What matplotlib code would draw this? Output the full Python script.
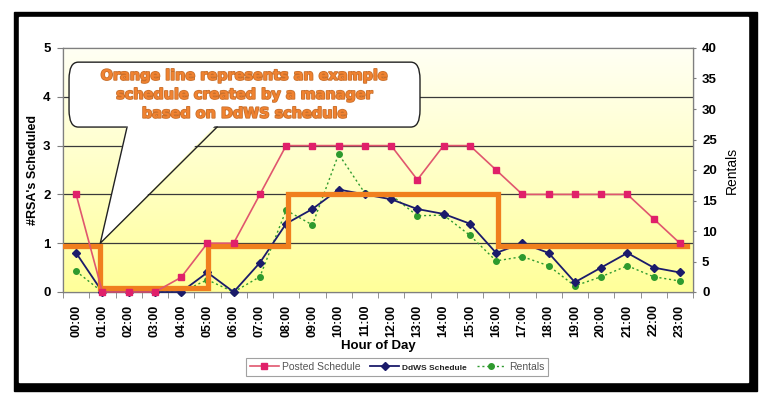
import numpy as np
import matplotlib
matplotlib.use("Agg")
import matplotlib.pyplot as plt
from matplotlib.patches import Rectangle, FancyBboxPatch, Polygon
import matplotlib.patheffects as pe

plt.rcParams['font.family'] = ['Liberation Sans', 'DejaVu Sans']

# ===== Data =====
hours = ["00:00", "01:00", "02:00", "03:00", "04:00", "05:00", "06:00", "07:00",
         "08:00", "09:00", "10:00", "11:00", "12:00", "13:00", "14:00", "15:00",
         "16:00", "17:00", "18:00", "19:00", "20:00", "21:00", "22:00", "23:00"]
posted = [2, 0, 0, 0, 0.3, 1, 1, 2, 3, 3, 3, 3, 3, 2.3, 3, 3, 2.5, 2, 2, 2, 2, 2, 1.5, 1]
ddws = [0.8, 0, 0, 0, 0, 0.4, 0, 0.6, 1.4, 1.7, 2.1, 2.0, 1.9, 1.7, 1.6, 1.4,
        0.8, 1.0, 0.8, 0.2, 0.5, 0.8, 0.5, 0.4]
rentals = [3.4, 0, 0, 0, 0, 2, 0, 2.5, 13.4, 11, 22.6, 16.2, 15.9, 12.5, 12.6, 9.3,
           5.1, 5.8, 4.3, 1.0, 2.5, 4.3, 2.5, 1.8]

# manager's example schedule (step edges and levels)
orange_x = [-0.5, 0.92, 5.03, 8.07, 16.07, 23.27]
orange_y = [0.95, 0.08, 0.95, 2.0, 0.95, 0.95]

callout_text = ("Orange line represents an example\n"
                "schedule created by a manager\n"
                "based on DdWS schedule")

# ===== Figure =====
fig = plt.figure(figsize=(7.62, 3.94), dpi=100)
fig.patch.set_facecolor("white")

# black frame around the chart
W, H = 762, 394
fig.patches.append(Rectangle((14 / W, 1 - 391 / H), 743 / W, 379 / H,
                             transform=fig.transFigure, color="black", zorder=-2))
fig.patches.append(Rectangle((19 / W, 1 - 382 / H), 729 / W, 365 / H,
                             transform=fig.transFigure, color="white", zorder=-1))

ax = fig.add_axes([63 / W, 1 - 292 / H, 630 / W, 244 / H])
x = np.arange(len(hours))

ax2 = ax.twinx()
ax2.set_ylim(0, 40)
ax2.set_yticks(range(0, 45, 5))
ax.set_zorder(ax2.get_zorder() + 1)
ax.patch.set_visible(False)

# gradient background
grad = np.linspace(0, 1, 256).reshape(-1, 1)
cmap = matplotlib.colors.LinearSegmentedColormap.from_list("bg", ["#FFFF9A", "#FFFFF4"])
ax.imshow(grad, extent=(-0.5, 23.5, 0, 5), origin="lower", aspect="auto",
          cmap=cmap, zorder=0)

ax.set_xlim(-0.5, 23.5)
ax.set_ylim(0, 5)
ax.set_yticks([0, 1, 2, 3, 4, 5])
for yv in [1, 2, 3, 4]:
    ax.axhline(yv, color="#3a3a3a", lw=0.9, zorder=1)

# rentals live on the right-hand scale
ax.plot(x, rentals, color="#2E9A2E", lw=1.0, ls=(0, (1.5, 2)), marker="o", ms=4,
        zorder=3, clip_on=False, transform=ax2.transData)
ax.plot(x, ddws, color="#1B1B6B", lw=1.3, marker="D", ms=4, zorder=3, clip_on=False)
ax.step(orange_x, orange_y, where="post", color="#F07F1E", lw=3.8, zorder=4,
        solid_joinstyle="miter")
ax.plot(x, posted, color="#E0566E", lw=1.2, marker="s", ms=4.5,
        mfc="#E0206A", mec="#E0206A", zorder=5, clip_on=False)

# callout bubble
box = FancyBboxPatch((-0.27, 3.38), 13.37, 1.33,
                     boxstyle="round,pad=0,rounding_size=0.35",
                     fc="white", ec="#222222", lw=1.0, zorder=6, clip_on=False)
ax.add_patch(box)
ax.add_patch(Polygon([(1.94, 3.45), (0.92, 1.0), (5.37, 3.45)], closed=True,
                     fc="white", ec="none", zorder=7))
ax.plot([1.94, 0.92, 5.37], [3.38, 1.0, 3.38], color="#222222", lw=1.0, zorder=7)
ax.text(6.4, 4.04, callout_text, ha="center", va="center", fontsize=10.4,
        fontweight="bold", family="DejaVu Sans", color="#F08230", linespacing=1.45,
        zorder=8,
        path_effects=[pe.withStroke(linewidth=1.2, foreground="#C9702C")])

# axes styling
for a in (ax, ax2):
    for s in a.spines.values():
        s.set_color("#7f7f7f")
        s.set_linewidth(0.9)

ax.set_xticks(x)
ax.set_xticklabels(hours, rotation=90, fontsize=9, fontweight="bold")
ax.set_xticks(np.arange(-0.5, 24, 1), minor=True)
ax.tick_params(axis="x", which="major", length=0, pad=9)
ax.tick_params(axis="x", which="minor", length=4, color="#7f7f7f")
ax.tick_params(axis="y", length=4, color="#7f7f7f", labelsize=9.5, pad=5)
for t in ax.get_yticklabels():
    t.set_fontweight("bold")
ax2.tick_params(axis="y", length=5, direction="inout", color="#7f7f7f",
                labelsize=9.5, pad=4)
for t in ax2.get_yticklabels():
    t.set_fontweight("bold")

ax.set_xlabel("Hour of Day", fontsize=9.5, fontweight="bold", labelpad=2)
ax.set_ylabel("#RSA's Scheduled", fontsize=9, fontweight="bold", labelpad=3)
ax2.set_ylabel("Rentals", fontsize=10, labelpad=6)

# legend
h1 = plt.Line2D([], [], color="#E0566E", lw=1.2, marker="s", ms=4.5,
                mfc="#E0206A", mec="#E0206A")
h2 = plt.Line2D([], [], color="#1B1B6B", lw=1.3, marker="D", ms=4)
h3 = plt.Line2D([], [], color="#2E9A2E", lw=1.0, ls=(0, (1.5, 2)), marker="o", ms=4)
leg = fig.legend([h1, h2, h3], ["Posted Schedule", "DdWS Schedule", "Rentals"],
                 loc="center", bbox_to_anchor=(397 / W, 1 - 367 / H), ncol=3,
                 fontsize=7.5, frameon=True, fancybox=False, handlelength=2.8,
                 columnspacing=0.9, handletextpad=0.3, borderpad=0.4)
leg.get_frame().set_edgecolor("#8a8a8a")
leg.get_frame().set_linewidth(0.8)
for t in leg.get_texts():
    t.set_color("#555555")
leg.get_texts()[1].set_fontsize(6)
leg.get_texts()[1].set_fontweight("bold")
leg.get_texts()[1].set_color("#222222")

fig.savefig("out.png", dpi=100)
